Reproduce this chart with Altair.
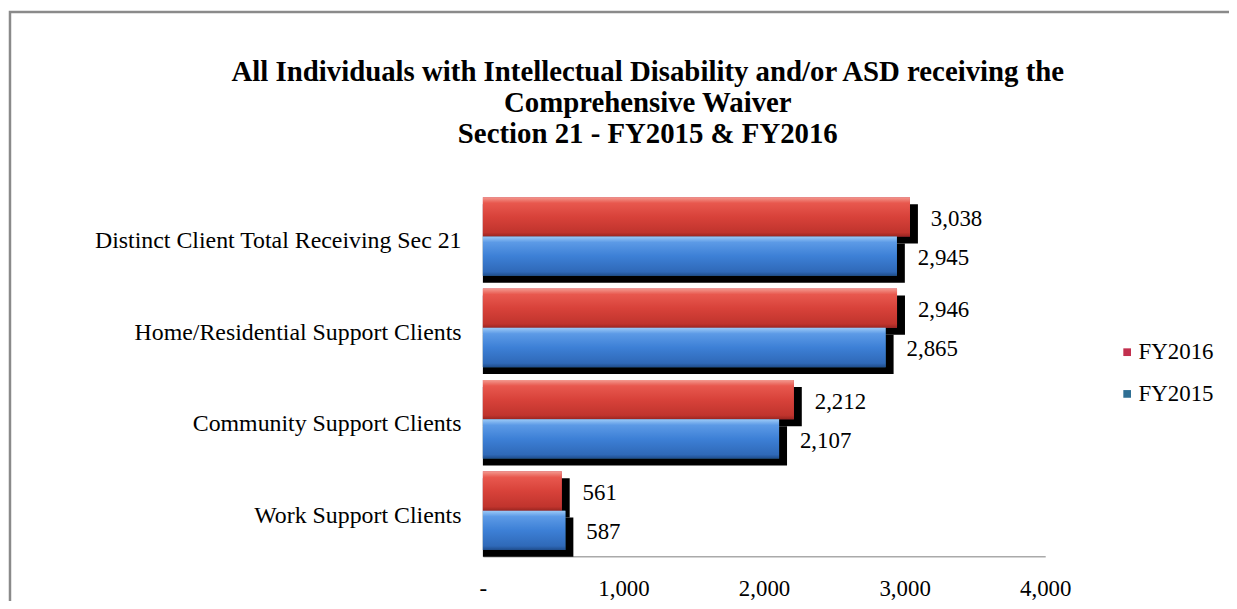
import altair as alt
import pandas as pd

categories = ["Distinct Client Total Receiving Sec 21", "Home/Residential Support Clients",
              "Community Support Clients", "Work Support Clients"]
fy2016 = [3038, 2946, 2212, 561]
fy2015 = [2945, 2865, 2107, 587]
series = ["FY2016", "FY2015"]
x_ticks = [0, 1000, 2000, 3000, 4000]

rows = []
for c, a, b in zip(categories, fy2016, fy2015):
    rows.append({"cat": c, "series": "FY2016", "value": a})
    rows.append({"cat": c, "series": "FY2015", "value": b})
df = pd.DataFrame(rows)

FONT = "Liberation Serif"
SUB = 39.5  # sub-band height in px (368/4 * 0.86 / 2)

y_enc = alt.Y("cat:N", sort=categories, title=None,
              scale=alt.Scale(paddingInner=0.14, paddingOuter=0.07),
              axis=alt.Axis(domain=False, ticks=False, labelFont=FONT, labelFontSize=24,
                            labelColor="black", labelPadding=22, labelLimit=500, labelOffset=5))
yoff = alt.YOffset("series:N", sort=series, scale=alt.Scale(domain=series, paddingInner=0, paddingOuter=0))
x_enc = alt.X("value:Q", title=None,
              scale=alt.Scale(domain=[0, 4000], nice=False),
              axis=alt.Axis(values=x_ticks, grid=False, ticks=False, domainColor="#aaaaaa",
                            domainWidth=1.5, labelFont=FONT, labelFontSize=23, labelColor="black",
                            labelPadding=21, labelFlush=False,
                            labelExpr="datum.value == 0 ? '-' : format(datum.value, ',')"))

base = alt.Chart(df)

frame = alt.Chart(pd.DataFrame({"k": [0]})).mark_rect(
    fillOpacity=0, stroke="#8a8a8a", strokeWidth=2.5
).encode(x=alt.value(-476), x2=alt.value(800), y=alt.value(-180), y2=alt.value(460))

shadow_red = base.transform_filter("datum.series == 'FY2016'").mark_bar(
    color="black", height=SUB, xOffset=8, yOffset=-SUB / 2 + 7).encode(
    y=y_enc, x=x_enc, x2=alt.datum(0))
shadow_blue = base.transform_filter("datum.series == 'FY2015'").mark_bar(
    color="black", height=SUB, xOffset=8, yOffset=SUB / 2 + 7).encode(
    y=y_enc, x=x_enc, x2=alt.datum(0))

flat = base.mark_bar().encode(
    y=y_enc, yOffset=yoff, x=x_enc,
    color=alt.Color("series:N", scale=alt.Scale(domain=series, range=["#c2304e", "#2f6f94"]),
                    legend=alt.Legend(title=None, orient="none", legendX=637, legendY=151,
                                      labelFont=FONT, labelFontSize=23, labelColor="black",
                                      symbolType="square", symbolSize=60, symbolStrokeWidth=0,
                                      rowPadding=18, labelOffset=0)))

def grad(stops):
    return alt.Gradient(gradient="linear", x1=0, x2=0, y1=0, y2=1,
                        stops=[alt.GradientStop(color=c, offset=o) for o, c in stops])

red_bar = base.transform_filter("datum.series == 'FY2016'").mark_bar(
    color=grad([(0, "#f39a90"), (0.15, "#e8584e"), (0.5, "#d8423a"), (0.9, "#c0342d"), (1, "#9a2520")])
).encode(y=y_enc, yOffset=yoff, x=x_enc)

blue_bar = base.transform_filter("datum.series == 'FY2015'").mark_bar(
    color=grad([(0, "#9ccaf7"), (0.15, "#5c9ae6"), (0.5, "#3d80d6"), (0.9, "#2f69b8"), (1, "#1f4d8c")])
).encode(y=y_enc, yOffset=yoff, x=x_enc)

labels = base.mark_text(align="left", baseline="middle", dx=21, dy=2, font=FONT, fontSize=23,
                        color="black").encode(
    y=y_enc, yOffset=yoff, x=x_enc, text=alt.Text("value:Q", format=","))

chart = alt.layer(frame, shadow_red, shadow_blue, flat, red_bar, blue_bar, labels).properties(
    width=566, height=368,
    title=alt.TitleParams(
        ["All Individuals with Intellectual Disability and/or ASD receiving the",
         "Comprehensive Waiver", "Section 21 - FY2015 & FY2016"],
        font=FONT, fontSize=29, fontWeight="bold", color="black", anchor="middle",
        frame="group", dx=-117, offset=-139, lineHeight=31),
    padding={"left": 478, "top": 182, "right": 185, "bottom": 43},
    autosize=alt.AutoSizeParams(type="none"),
).configure_view(stroke=None)

chart.save("out.html", embed_options={"renderer": "svg", "actions": False})
